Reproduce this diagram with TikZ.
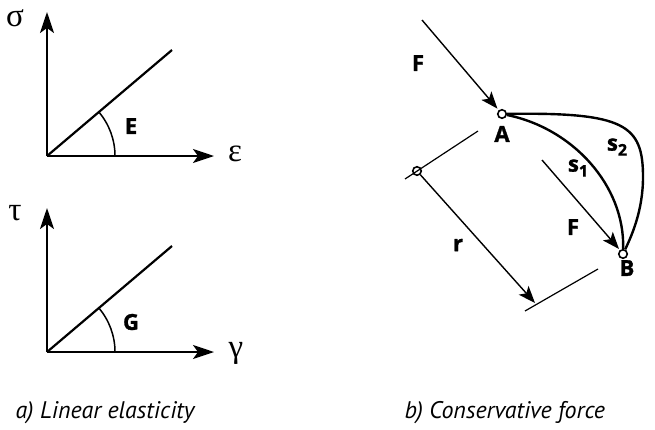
\documentclass[tikz,border=0pt]{standalone}
\usepackage{fontspec}
\setmainfont{PT Sans}
\newfontfamily\labelfont[BoldFeatures={FakeBold=1.3}]{Open Sans}
\newfontfamily\greekfont{Liberation Serif}
\usetikzlibrary{arrows.meta}

\tikzset{
  axisline/.style={line width=2.2pt, -{Stealth[length=21pt,width=14pt,inset=5pt]}},
  forcearrow/.style={line width=1.4pt, -{Stealth[length=17pt,width=13pt,inset=4pt]}},
  curvepath/.style={line width=2.4pt},
  lbl/.style={font=\fontsize{22}{22}\labelfont\bfseries},
  sym/.style={font=\fontsize{33}{33}\greekfont, inner sep=0pt},
  captext/.style={font=\fontsize{24}{24}\selectfont\itshape, anchor=base west},
  hinge/.style={circle, draw, fill=white, line width=1.6pt, inner sep=0pt, minimum size=8.5pt}
}
\newcommand{\sub}[1]{\raisebox{-5pt}{\fontsize{16}{16}\selectfont #1}}

\begin{document}
\begin{tikzpicture}[x=1pt, y=-1pt]
  \useasboundingbox (0,0) rectangle (655,429);

  % a) stress - strain
  \coordinate (O1) at (47,156);
  \coordinate (Y1) at (47,12);
  \coordinate (X1) at (214,156);
  \coordinate (L1) at (172,50);
  \draw[axisline] (O1) -- (Y1);
  \draw[axisline] (O1) -- (X1);
  \draw[line width=2.2pt] (O1) -- (L1);
  \draw[line width=1.5pt] (O1) ++(68,0) arc[start angle=0, end angle=-40.3, radius=68];
  \node[lbl] (E) at (131,126) {E};
  \node[sym] (sigma) at (15,18) {σ};
  \node[sym] (eps) at (235,154) {ε};

  \coordinate (O2) at (47,352);
  \coordinate (Y2) at (47,208);
  \coordinate (X2) at (214,352);
  \coordinate (L2) at (172,246);
  \draw[axisline] (O2) -- (Y2);
  \draw[axisline] (O2) -- (X2);
  \draw[line width=2.2pt] (O2) -- (L2);
  \draw[line width=1.5pt] (O2) ++(68,0) arc[start angle=0, end angle=-40.3, radius=68];
  \node[lbl] (G) at (131,322) {G};
  \node[sym] (tau) at (15,213) {τ};
  \node[sym] (gam) at (236,353) {γ};

  % b) conservative force
  \node[hinge] (A) at (502,114) {};
  \node[hinge] (B) at (623,254) {};
  \node[hinge] (P) at (417,171) {};
  \coordinate (S2) at (643,177);
  \draw[curvepath] (A) .. controls (572,128) and (625,185) .. (B);
  \draw[curvepath] (A) .. controls (625,112) and (643,125) .. (S2)
                       .. controls (643,210) and (632,235) .. (B);
  \coordinate (F1) at (422,20);
  \draw[forcearrow, shorten >=2pt] (F1) -- (A);
  \coordinate (F2) at (542,160);
  \coordinate (F2e) at (619,249);
  \draw[forcearrow] (F2) -- (F2e);
  \coordinate (P1) at (405,179);
  \coordinate (P2) at (478,131);
  \draw[line width=1.2pt] (P1) -- (P2);
  \coordinate (R) at (535,303);
  \draw[forcearrow] (P) -- (R);
  \coordinate (R1) at (525,311);
  \coordinate (R2) at (598,269);
  \draw[line width=1.2pt] (R1) -- (R2);
  \node[lbl] (Fa) at (418,63) {F};
  \node[lbl] (Fb) at (573,227) {F};
  \node[lbl] (Al) at (502,134) {A};
  \node[lbl] (Bl) at (627,268) {B};
  \node[lbl] (s1) at (578,168) {s\sub{1}};
  \node[lbl] (s2) at (617,147) {s\sub{2}};
  \node[lbl] (r) at (458,245) {r};

  \node[captext] (capa) at (12,418) {a) Linear elasticity};
  \node[captext] (capb) at (401,418) {b) Conservative force};
\end{tikzpicture}
\end{document}
